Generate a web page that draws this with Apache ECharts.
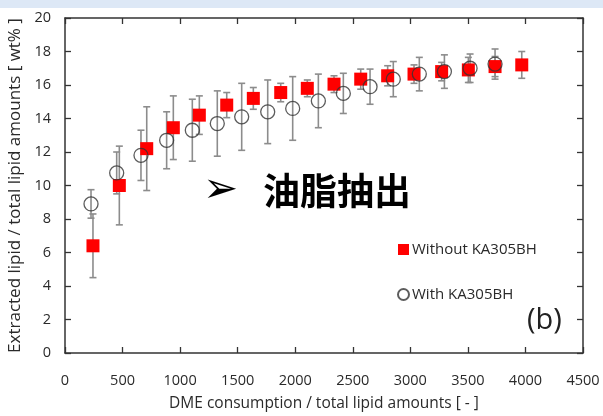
<!DOCTYPE html>
<html><head><meta charset="utf-8">
<script src="https://cdn.jsdelivr.net/npm/echarts@6/dist/echarts.min.js"></script>
<style>html,body{margin:0;padding:0;background:#fff}#c{width:603px;height:416px}</style>
</head><body><div id="c"></div>
<script>
// Without KA305BH (red squares)
const redX = [243, 472, 710, 941, 1167, 1405, 1636, 1874, 2105, 2337, 2569, 2803, 3032, 3272, 3504, 3736, 3968];
const redY = [6.4, 10.0, 12.2, 13.45, 14.2, 14.8, 15.2, 15.55, 15.8, 16.05, 16.35, 16.55, 16.65, 16.8, 16.9, 17.1, 17.2];
const redErr = [1.9, 2.35, 2.5, 1.9, 1.15, 0.75, 0.65, 0.55, 0.5, 0.5, 0.6, 0.6, 0.55, 0.55, 0.75, 0.6, 0.8];
// With KA305BH (open circles)
const cirX = [226, 449, 660, 883, 1106, 1323, 1535, 1761, 1978, 2201, 2418, 2650, 2852, 3078, 3296, 3519, 3736];
const cirY = [8.9, 10.75, 11.8, 12.7, 13.3, 13.7, 14.1, 14.4, 14.6, 15.05, 15.5, 15.9, 16.35, 16.65, 16.8, 17.0, 17.25];
const cirErr = [0.85, 1.25, 1.5, 1.7, 1.85, 1.95, 2.0, 1.9, 1.9, 1.6, 1.2, 1.05, 1.05, 1.0, 1.0, 0.85, 0.9];

const xTitle = 'DME consumption / total lipid amounts [ - ]';
const yTitle = 'Extracted lipid / total lipid amounts [ wt% ]';
const seriesNames = ['Without KA305BH', 'With KA305BH'];

const FONT = '"Open Sans", "Liberation Sans", sans-serif';
const chart = echarts.init(document.getElementById('c'));

function errData(xs, ys, es) {
  return xs.map((x, i) => [x, ys[i] - es[i], ys[i] + es[i]]);
}
function renderErr(params, api) {
  const x = api.value(0), lo = api.value(1), hi = api.value(2);
  const p1 = api.coord([x, hi]), p2 = api.coord([x, lo]);
  const w = 3.5;
  const style = { stroke: '#8c8c8c', lineWidth: 1.6 };
  return { type: 'group', children: [
    { type: 'line', shape: { x1: p1[0], y1: p1[1], x2: p2[0], y2: p2[1] }, style },
    { type: 'line', shape: { x1: p1[0] - w, y1: p1[1], x2: p1[0] + w, y2: p1[1] }, style },
    { type: 'line', shape: { x1: p2[0] - w, y1: p2[1], x2: p2[0] + w, y2: p2[1] }, style }
  ]};
}

const axisLine = { show: true, onZero: false, lineStyle: { color: '#333', width: 1.5 } };
const axisTick = { show: true, inside: true, length: 6, lineStyle: { color: '#333', width: 1.3 } };
const plain = v => String(v);

chart.setOption({
  animation: false,
  grid: { left: 65, right: 20, top: 18, bottom: 63, containLabel: false, outerBoundsMode: 'none' },
  xAxis: [
    { type: 'value', min: 0, max: 4500, interval: 500, position: 'bottom',
      axisLine, axisTick, splitLine: { show: false },
      axisLabel: { color: '#2a2a2a', fontSize: 14.5, fontFamily: FONT, margin: 20, formatter: plain },
      name: xTitle, nameLocation: 'middle', nameGap: 43,
      nameTextStyle: { color: '#2a2a2a', fontSize: 15.5, fontFamily: FONT } },
    { type: 'value', min: 0, max: 4500, interval: 500, position: 'top',
      axisLine, axisTick, splitLine: { show: false }, axisLabel: { show: false } }
  ],
  yAxis: [
    { type: 'value', min: 0, max: 20, interval: 2, position: 'left',
      axisLine, axisTick, splitLine: { show: false },
      axisLabel: { color: '#2a2a2a', fontSize: 14.5, fontFamily: FONT, margin: 14, formatter: plain },
      name: yTitle, nameLocation: 'middle', nameGap: 38,
      nameTextStyle: { color: '#2a2a2a', fontSize: 17, fontFamily: FONT } },
    { type: 'value', min: 0, max: 20, interval: 2, position: 'right',
      axisLine, axisTick, splitLine: { show: false }, axisLabel: { show: false } }
  ],
  legend: {
    orient: 'vertical', left: 392, top: 237, itemGap: 30, itemWidth: 11, itemHeight: 11,
    textStyle: { color: '#2a2a2a', fontSize: 15, fontFamily: FONT, padding: [0, 0, 0, -2] },
    data: [{ name: seriesNames[0], icon: 'rect' }, { name: seriesNames[1], icon: 'circle' }]
  },
  series: [
    { type: 'custom', renderItem: renderErr, data: errData(cirX, cirY, cirErr), encode: { x: 0, y: [1, 2] }, z: 1, silent: true },
    { type: 'custom', renderItem: renderErr, data: errData(redX, redY, redErr), encode: { x: 0, y: [1, 2] }, z: 1, silent: true },
    { name: seriesNames[0], type: 'scatter', symbol: 'rect', symbolSize: 13, z: 3,
      itemStyle: { color: '#ff0000', opacity: 1 },
      data: redX.map((x, i) => [x, redY[i]]) },
    { name: seriesNames[1], type: 'scatter', symbol: 'circle', symbolSize: 14, z: 4,
      itemStyle: { color: 'rgba(0,0,0,0)', borderColor: '#333', borderWidth: 1.3 },
      data: cirX.map((x, i) => [x, cirY[i]]) }
  ],
  graphic: [
    { type: 'rect', left: 0, top: 0, shape: { width: 603, height: 8 }, style: { fill: '#dde8f6' }, silent: true },
    { type: 'text', left: 203, top: 170, style: { text: '➢', fontSize: 42, fill: '#000', fontFamily: '"DejaVu Sans", sans-serif' } },
    { type: 'text', left: 263, top: 172, style: { text: '油脂抽出', fontSize: 37, fontWeight: 'bold', fill: '#000', fontFamily: '"Noto Sans CJK JP", sans-serif' } },
    { type: 'text', left: 527, top: 306, style: { text: '(b)', fontSize: 29, fill: '#222', fontFamily: FONT } }
  ]
});
</script></body></html>
